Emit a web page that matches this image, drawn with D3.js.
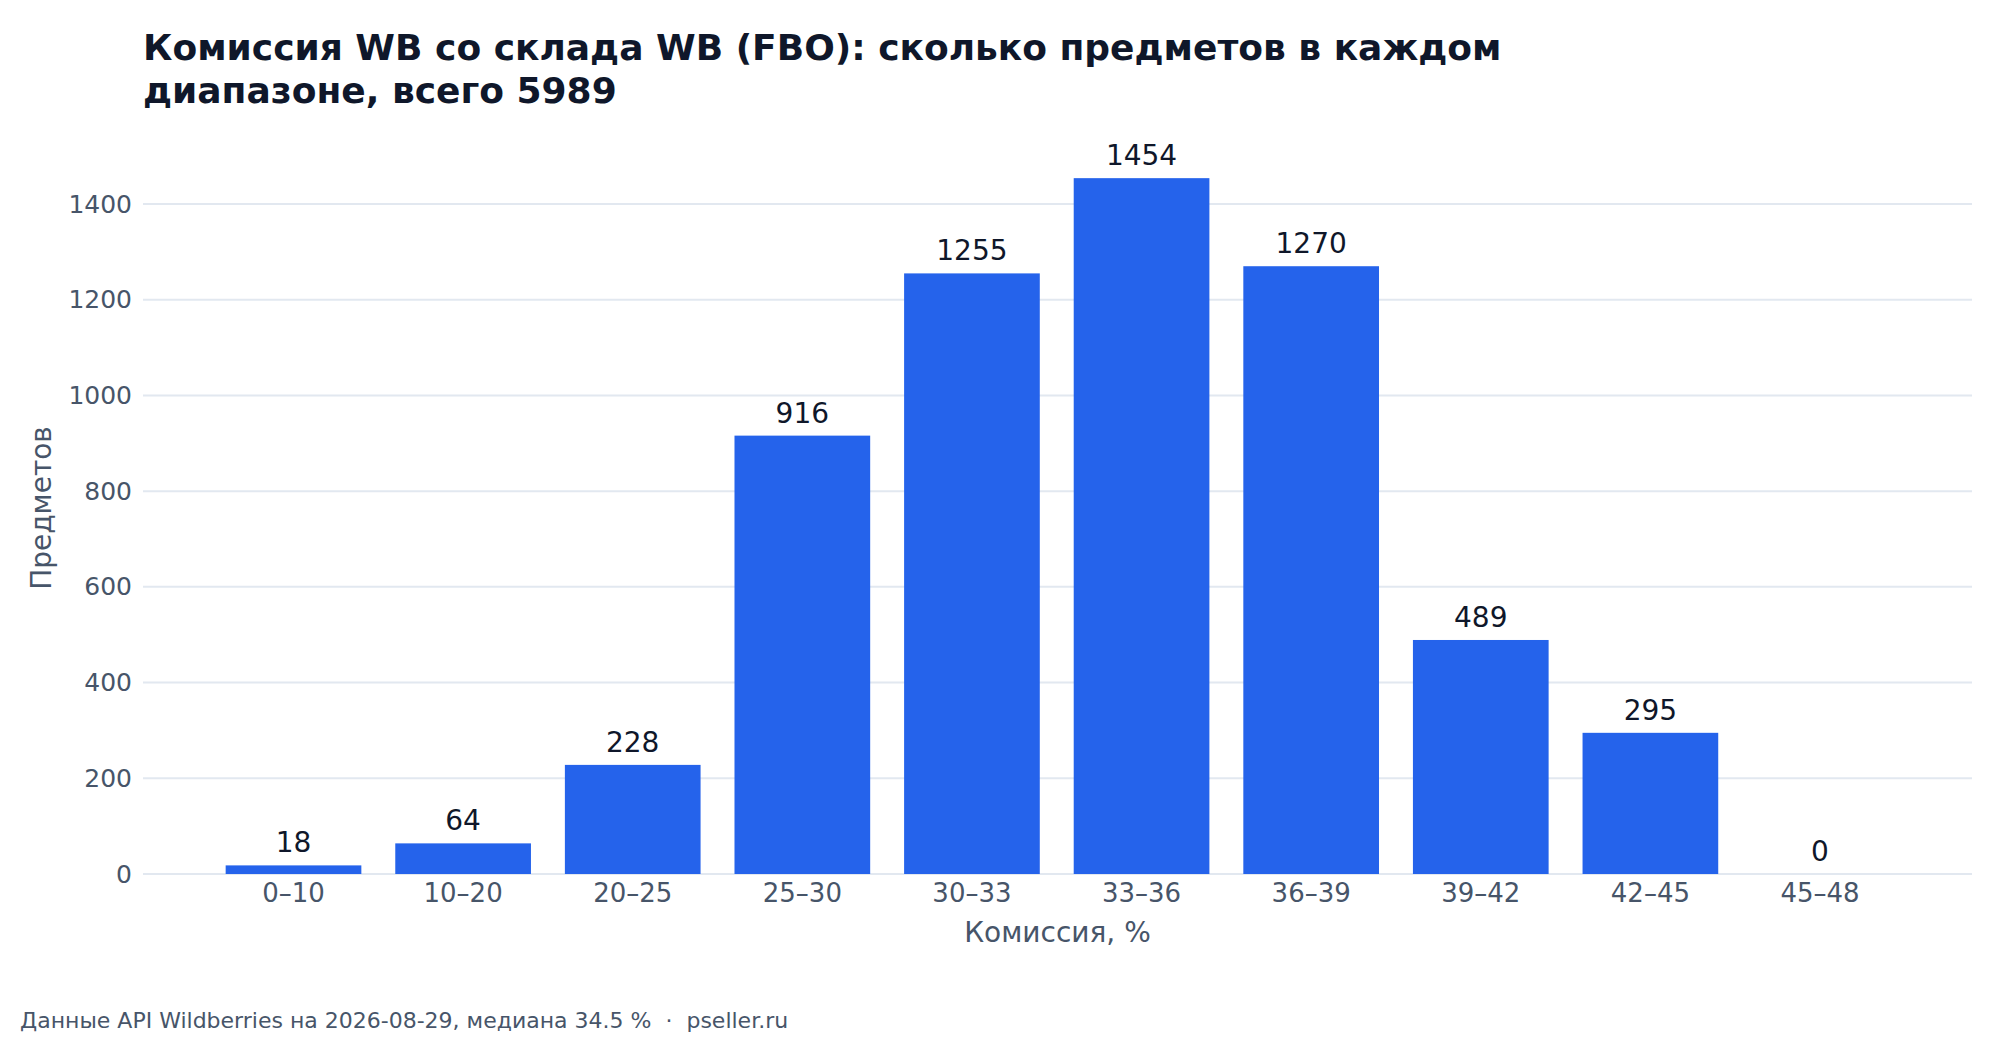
<!DOCTYPE html>
<html>
<head>
<meta charset="utf-8">
<script src="https://cdn.jsdelivr.net/npm/d3@7"></script>
<style>
  body { margin: 0; background: #fff; }
  svg { display: block; font-family: "DejaVu Sans", sans-serif; }
</style>
</head>
<body>
<svg id="chart" width="2000" height="1040"></svg>
<script>
// data
const categories = ["0–10", "10–20", "20–25", "25–30", "30–33", "33–36", "36–39", "39–42", "42–45", "45–48"];
const counts = [18, 64, 228, 916, 1255, 1454, 1270, 489, 295, 0];
const yTicks = [0, 200, 400, 600, 800, 1000, 1200, 1400];

const titleLines = ["Комиссия WB со склада WB (FBO): сколько предметов в каждом", "диапазоне, всего 5989"];
const xTitle = "Комиссия, %";
const yTitle = "Предметов";
const footer = "Данные API Wildberries на 2026-08-29, медиана 34.5 %  ·  pseller.ru";

const svg = d3.select("#chart");
const plot = {left: 143, right: 1972, top: 140, bottom: 874};

let x = d3.scaleBand()
    .domain(categories)
    .range([208.7, 1904.8])
    .paddingInner(0.2)
    .paddingOuter(0.1);

let y = d3.scaleLinear()
    .domain([0, 1400])
    .range([plot.bottom, 204]);

// title
svg.append("g").selectAll("text")
    .data(titleLines)
    .join("text")
    .attr("x", 143)
    .attr("y", (d, i) => 60 + i * 43)
    .attr("font-size", 36)
    .attr("font-weight", "bold")
    .attr("fill", "#0f172a")
    .text(d => d);

// gridlines
svg.append("g").selectAll("line")
    .data(yTicks)
    .join("line")
    .attr("x1", plot.left)
    .attr("x2", plot.right)
    .attr("y1", d => y(d))
    .attr("y2", d => y(d))
    .attr("stroke", "#e2e8f0")
    .attr("stroke-width", 2);

// y axis
let yAxis = svg.append("g")
    .attr("transform", `translate(${plot.left},0)`)
    .call(d3.axisLeft(y).tickValues(yTicks).tickSize(0).tickPadding(11).tickFormat(d3.format("d")));
yAxis.select(".domain").remove();
yAxis.selectAll("text")
    .attr("font-size", 25)
    .attr("font-family", "DejaVu Sans")
    .attr("fill", "#475569");

// x axis
let xAxis = svg.append("g")
    .attr("transform", `translate(0,${plot.bottom})`)
    .call(d3.axisBottom(x).tickSize(0).tickPadding(10));
xAxis.select(".domain").remove();
xAxis.selectAll("text")
    .attr("font-size", 26)
    .attr("font-family", "DejaVu Sans")
    .attr("fill", "#475569");

// bars
svg.append("g").selectAll("rect")
    .data(counts)
    .join("rect")
    .attr("x", (d, i) => x(categories[i]))
    .attr("y", d => y(d))
    .attr("width", x.bandwidth())
    .attr("height", d => plot.bottom - y(d))
    .attr("fill", "#2563eb");

// value labels
svg.append("g").selectAll("text")
    .data(counts)
    .join("text")
    .attr("x", (d, i) => x(categories[i]) + x.bandwidth() / 2)
    .attr("y", d => y(d) - 13)
    .attr("text-anchor", "middle")
    .attr("font-size", 28)
    .attr("fill", "#0f172a")
    .text(d => d);

// axis titles
svg.append("text")
    .attr("x", (plot.left + plot.right) / 2)
    .attr("y", 942)
    .attr("text-anchor", "middle")
    .attr("font-size", 28)
    .attr("fill", "#475569")
    .text(xTitle);

svg.append("text")
    .attr("transform", "translate(51,508) rotate(-90)")
    .attr("text-anchor", "middle")
    .attr("font-size", 28)
    .attr("fill", "#475569")
    .text(yTitle);

// footer
svg.append("text")
    .attr("x", 20)
    .attr("y", 1028)
    .attr("font-size", 22)
    .attr("fill", "#475569")
    .attr("xml:space", "preserve")
    .style("white-space", "pre")
    .text(footer);
</script>
</body>
</html>
